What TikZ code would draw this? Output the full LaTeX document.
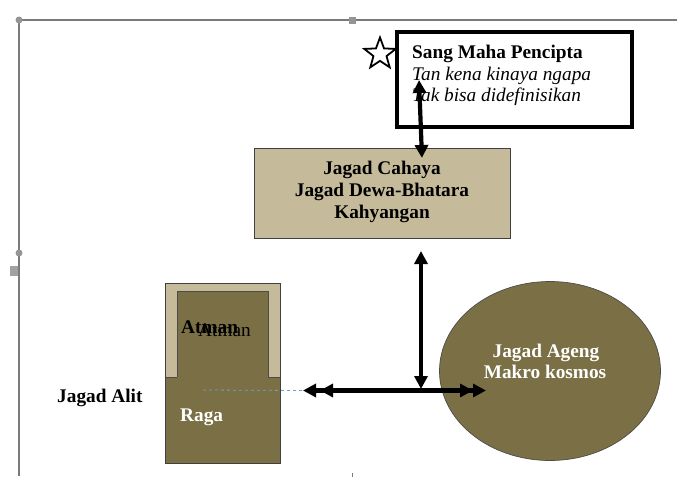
\documentclass[tikz,border=0pt]{standalone}
\usepackage{fontspec}
\setmainfont{Liberation Serif}
\usetikzlibrary{arrows.meta,shapes.geometric}
\definecolor{olivedk}{HTML}{7A6F45}
\definecolor{beigelt}{HTML}{C5BB9A}
\definecolor{framegray}{HTML}{7A7A7A}
\definecolor{dashblue}{HTML}{7C9CC8}
\begin{document}
\begin{tikzpicture}[x=1pt,y=-1pt,
  txt/.style={inner sep=0pt, font=\fontsize{19.3}{22}\selectfont},
  dblarrow/.style={line width=4.2pt, {Triangle[length=13pt,width=13pt]}-{Triangle[length=13pt,width=13pt]}},
  handle/.style={circle, fill=framegray!80, inner sep=0pt, minimum size=7pt},
  box/.style={rectangle, inner sep=0pt}
]
\useasboundingbox (0,0) rectangle (677,479);
% page frame
\draw[framegray, line width=1.3pt] (17,20) -- (677,20);
\draw[framegray, line width=1.3pt] (19,20) -- (19,476);
\node[handle] (h1) at (19,20) {};
\node[rectangle, fill=framegray!80, inner sep=0pt, minimum size=7pt] (h2) at (352,20) {};
\node[handle] (h3) at (19,253) {};
\node[rectangle, fill=framegray!70, inner sep=0pt, minimum width=8pt, minimum height=10pt] (h4) at (14,271) {};
\draw[framegray, line width=0.8pt] (352,473) -- (352,477);

% Sang Maha Pencipta box
\node[box, draw, line width=3.2pt, minimum width=235pt, minimum height=95pt] (god) at (514.5,79.5) {};
\node[txt, anchor=base west] (g1) at (412,58) {\textbf{Sang Maha Pencipta}};
\node[txt, anchor=base west] (g2) at (412,80) {\textit{Tan kena kinaya ngapa}};
\node[txt, anchor=base west] (g3) at (412,101) {\textit{Tak bisa didefinisikan}};
\node[star, star points=5, star point ratio=2.4, draw, line width=1.8pt, fill=white, inner sep=0pt, minimum size=33pt] (star) at (380,54) {};

% Jagad Cahaya box
\node[box, draw=black!75, line width=0.8pt, fill=beigelt, minimum width=256pt, minimum height=90pt] (cahaya) at (382,193) {};
\node[txt, anchor=base] (c1) at (382,174) {\textbf{Jagad Cahaya}};
\node[txt, anchor=base] (c2) at (382,196) {\textbf{Jagad Dewa-Bhatara}};
\node[txt, anchor=base] (c3) at (382,218) {\textbf{Kahyangan}};

% Jagad Alit figure
\node[box, fill=olivedk, minimum width=114pt, minimum height=179pt] (alit) at (223,373.5) {};
\fill[beigelt] (166,284) rectangle (280,377);
\fill[olivedk] (177,291) rectangle (268,377);
\draw[black!70, line width=0.6pt] (177,377) -- (177,291) -- (268,291) -- (268,377);
\draw[black!70, line width=0.6pt] (166,377) -- (177,377) (268,377) -- (280,377);
\draw[black!75, line width=0.8pt] (alit.north west) rectangle (alit.south east);
\node[txt, anchor=base west] (atman2) at (198,336) {Atman};
\node[txt, anchor=base west] (atman1) at (181,333) {\textbf{Atman}};
\node[txt, anchor=base west, text=white] (raga) at (180,421) {\textbf{Raga}};
\node[txt, anchor=base west] (alitlbl) at (57,402) {\textbf{Jagad Alit}};

% Jagad Ageng ellipse
\node[ellipse, draw=black!70, line width=0.7pt, fill=olivedk, inner sep=0pt, minimum width=221pt, minimum height=179pt] (ageng) at (550,371) {};
\node[txt, anchor=base, text=white] (e1) at (546,357) {\textbf{Jagad Ageng}};
\node[txt, anchor=base, text=white] (e2) at (545,378) {\textbf{Makro kosmos}};

% connectors
\coordinate (t1) at (422,158);
\coordinate (t2) at (419,80);
\draw[dblarrow] (t1) -- (t2);
\coordinate (v1) at (421,251);
\coordinate (v2) at (421,389);
\draw[dblarrow] (v1) -- (v2);
\coordinate (hl1) at (303,390.5);
\coordinate (hl2) at (320,390.5);
\coordinate (hr1) at (473,390.5);
\coordinate (hr2) at (486,390.5);
\coordinate (dl) at (203,390);
\draw[dashblue, dashed, line width=0.8pt] (dl) -- (hl1);
\draw[dblarrow] (hl1) -- (hr1);
\draw[dblarrow] (hl2) -- (hr2);
\end{tikzpicture}
\end{document}
